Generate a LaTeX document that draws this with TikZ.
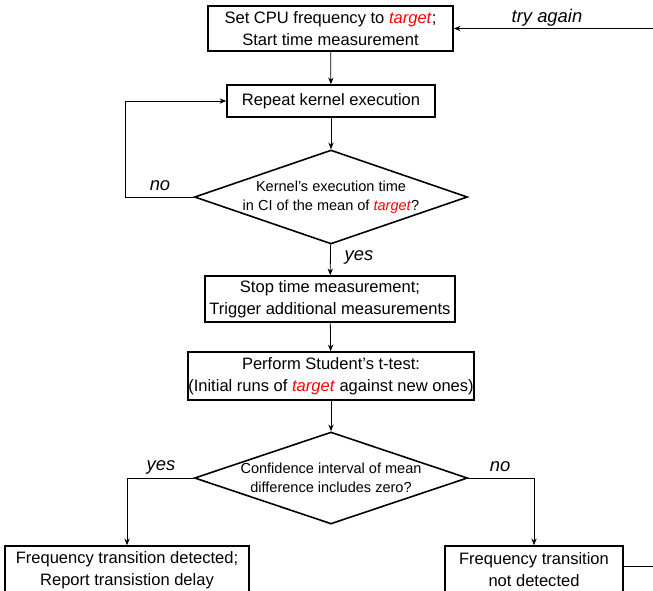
\documentclass[tikz,border=0pt]{standalone}
\usepackage{fontspec}
\setmainfont{Liberation Sans}
\usetikzlibrary{shapes.geometric,arrows.meta}
\newcommand{\tgt}{\textcolor{red}{\textit{target}}}
\tikzset{
    stepbox/.style={draw, line width=1.2pt, align=center, inner sep=0pt,
        font=\fontsize{12.4}{16.5}\selectfont},
    choice/.style={draw, diamond, line width=1.2pt, align=center, inner sep=0pt,
        aspect=2.9, font=\fontsize{10.9}{14}\selectfont},
    lbl/.style={font=\fontsize{13.8}{15}\selectfont\itshape},
    arr/.style={-{Stealth[length=5pt,width=4pt]}, line width=0.6pt},
    ln/.style={line width=0.6pt}
}
\begin{document}
\begin{tikzpicture}[x=0.75pt, y=-0.75pt]
        \useasboundingbox (0,0) rectangle (653,590);
        \node[stepbox, minimum width=183.75pt, minimum height=33.75pt] (setfreq) at (330.5, 28.5) {Set CPU frequency to \tgt;\\Start time measurement};
        \node[stepbox, minimum width=156pt, minimum height=24pt] (repeat) at (331, 101) {Repeat kernel execution};
        \node[choice, minimum width=204.75pt, minimum height=70.5pt] (check) at (331, 197) {Kernel's execution time\\in CI of the mean of \tgt?};
        \node[stepbox, minimum width=187.5pt, minimum height=34.5pt] (stop) at (330, 299) {Stop time measurement;\\Trigger additional measurements};
        \node[stepbox, minimum width=214.5pt, minimum height=36pt] (ttest) at (331, 376) {Perform Student's t-test:\\(Initial runs of \tgt{} against new ones)};
        \node[choice, minimum width=204.75pt, minimum height=69pt] (decide) at (331, 478) {Confidence interval of mean\\difference includes zero?};
        \node[stepbox, minimum width=183pt, minimum height=36pt] (detected) at (127, 570) {Frequency transition detected;\\Report transistion delay};
        \node[stepbox, minimum width=133.5pt, minimum height=36pt] (notdetected) at (534, 570) {Frequency transition\\not detected};
        \coordinate (retry) at (665, 28.5);
        \coordinate (leave) at (665, 566);
        \node[lbl] (trylbl) at (547, 18) {try again};
        \node[lbl] (nolbl) at (160, 186) {no};
        \node[lbl] (yeslbl) at (359, 257) {yes};
        \node[lbl] (yesbl) at (161, 467) {yes};
        \node[lbl] (nobr) at (500, 467) {no};
        \path [arr] (retry) edge (setfreq);
        \path [arr] (setfreq) edge (repeat);
        \path [arr] (repeat) edge (check);
        \path [arr] (check) edge (stop);
        \path [arr] (stop) edge (ttest);
        \path [arr] (ttest) edge (decide);
        \draw [arr] (check.west) -- ++(-68, 0) |- (repeat.west);
        \draw [arr] (decide.west) -| (detected.north);
        \draw [arr] (decide.east) -| (notdetected.north);
        \draw [ln] (notdetected.east |- leave) -- (leave);
    \end{tikzpicture}
\end{document}
